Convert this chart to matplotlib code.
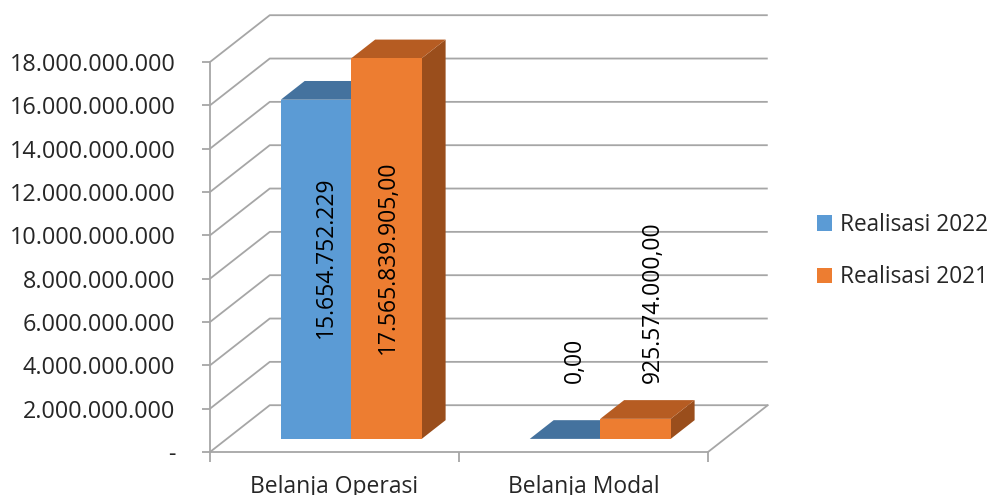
import matplotlib.pyplot as plt
from matplotlib.patches import Polygon, Patch

# ---------------------------------------------------------
# data
# ---------------------------------------------------------
categories = ["Belanja Operasi", "Belanja Modal"]
series_names = ["Realisasi 2022", "Realisasi 2021"]
realisasi_2022 = [15654752229, 0]
realisasi_2021 = [17565839905, 925574000]
labels_2022 = ["15.654.752.229", "0,00"]
labels_2021 = ["17.565.839.905,00", "925.574.000,00"]
y_ticks = [0, 2e9, 4e9, 6e9, 8e9, 10e9, 12e9, 14e9, 16e9, 18e9]
y_tick_labels = ["-", "2.000.000.000", "4.000.000.000", "6.000.000.000",
                 "8.000.000.000", "10.000.000.000", "12.000.000.000",
                 "14.000.000.000", "16.000.000.000", "18.000.000.000"]

# ---------------------------------------------------------
# style
# ---------------------------------------------------------
plt.rcParams["font.family"] = ["Open Sans", "DejaVu Sans"]
FS = 16.5
GRID = "#a6a6a6"
face = {"2022": "#5b9bd5", "2021": "#ed7d31"}
top = {"2022": "#44729e", "2021": "#b65c22"}
side = {"2022": "#3a6591", "2021": "#9a4e1c"}

YMAX = 18e9
NCAT = len(categories)
DX = 0.12 * NCAT      # depth offset, category units
DY = 0.12 * YMAX      # depth offset, value units
BAR_W = 0.283
A, B = 0.28, 0.68     # front / back of bars inside the depth

fig = plt.figure(figsize=(9.93, 4.95), dpi=100)
ax = fig.add_axes([210 / 993, 43 / 495, 498 / 993, 390 / 495])
ax.set_xlim(0, NCAT)
ax.set_ylim(0, YMAX)
ax.patch.set_visible(False)

# back wall gridlines plus the diagonal on the left wall
for t in y_ticks:
    ax.plot([0, DX, NCAT + DX], [t, t + DY, t + DY], color=GRID, lw=1.3,
            clip_on=False, zorder=1, solid_capstyle="butt")
# floor right edge
ax.plot([NCAT, NCAT + DX], [0, DY], color=GRID, lw=1.3, clip_on=False, zorder=1)


def draw_bar(x0, v, key):
    x1 = x0 + BAR_W
    fa, fb = (A * DX, A * DY), (B * DX, B * DY)
    front_poly = [(x0 + fa[0], fa[1]), (x1 + fa[0], fa[1]),
                  (x1 + fa[0], v + fa[1]), (x0 + fa[0], v + fa[1])]
    top_poly = [(x0 + fa[0], v + fa[1]), (x1 + fa[0], v + fa[1]),
                (x1 + fb[0], v + fb[1]), (x0 + fb[0], v + fb[1])]
    side_poly = [(x1 + fa[0], fa[1]), (x1 + fb[0], fb[1]),
                 (x1 + fb[0], v + fb[1]), (x1 + fa[0], v + fa[1])]
    for poly, col in [(side_poly, side[key]), (top_poly, top[key]),
                      (front_poly, face[key])]:
        ax.add_patch(Polygon(poly, closed=True, facecolor=col, edgecolor="none",
                             clip_on=False, zorder=3))


for i in range(NCAT):
    c = i + 0.5
    draw_bar(c - BAR_W, realisasi_2022[i], "2022")
    draw_bar(c, realisasi_2021[i], "2021")

# data labels
for i in range(NCAT):
    c = i + 0.5
    for v, lab, x0, nudge in [(realisasi_2022[i], labels_2022[i], c - BAR_W, 0.04),
                              (realisasi_2021[i], labels_2021[i], c, 0.005)]:
        x = x0 + BAR_W / 2 + A * DX + nudge
        if v > YMAX / 4:
            ax.text(x, YMAX / 2, lab, rotation=90, ha="center", va="center",
                    fontsize=FS, zorder=5)
        else:
            ax.text(x + (0.065 if v > 0 else 0), 3.2e9, lab, rotation=90,
                    ha="center", va="bottom", fontsize=FS, zorder=5)

# axes
for s in ["top", "right"]:
    ax.spines[s].set_visible(False)
for s in ["left", "bottom"]:
    ax.spines[s].set_color(GRID)
    ax.spines[s].set_linewidth(1.3)
ax.set_yticks(y_ticks)
ax.set_yticklabels(y_tick_labels)
ax.tick_params(axis="y", length=6, width=1.3, color=GRID, pad=19,
               labelsize=16.8, labelcolor="#262626")
ax.set_xticks(range(NCAT + 1))
ax.set_xticklabels([])
ax.tick_params(axis="x", which="major", length=7, width=1.3, color=GRID)
ax.set_xticks([i + 0.5 for i in range(NCAT)], minor=True)
ax.set_xticklabels(categories, minor=True)
ax.tick_params(axis="x", which="minor", length=0, pad=16.5, labelsize=FS,
               labelcolor="#262626")

# legend
handles = [Patch(facecolor=face["2022"]), Patch(facecolor=face["2021"])]
fig.legend(handles, series_names, loc="center left",
           bbox_to_anchor=(797 / 993, 1 - 251 / 495), frameon=False,
           fontsize=16.3, handlelength=0.66, handleheight=0.66,
           handletextpad=0.35, labelspacing=1.25, labelcolor="#262626")

fig.savefig("out.png", dpi=100)
